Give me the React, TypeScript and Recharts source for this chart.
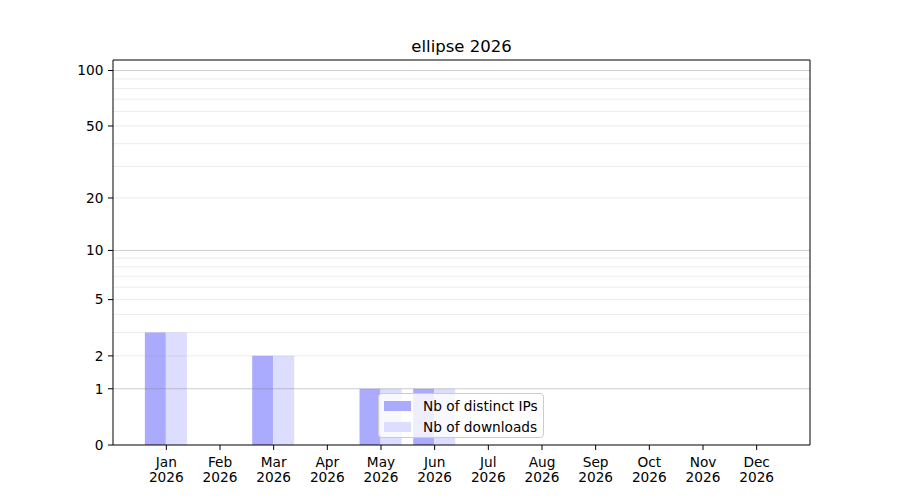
import {
  Bar,
  ComposedChart,
  Label,
  Legend,
  Line,
  ReferenceLine,
  XAxis,
  YAxis,
} from 'recharts';

const FONT = '"DejaVu Sans", sans-serif';

const MONTHS = ['Jan', 'Feb', 'Mar', 'Apr', 'May', 'Jun', 'Jul', 'Aug', 'Sep', 'Oct', 'Nov', 'Dec'];
const YEAR = '2026';
const DISTINCT_IPS = [3, 0, 2, 0, 1, 1, 0, 0, 0, 0, 0, 0];
const DOWNLOADS = [3, 0, 2, 0, 1, 1, 0, 0, 0, 0, 0, 0];

const Y_TICKS = [0, 1, 2, 5, 10, 20, 50, 100];
const Y_MAX = 114;
const MAJOR_GRID = [1, 10, 100];
const MINOR_GRID = [2, 3, 4, 5, 6, 7, 8, 9, 20, 30, 40, 50, 60, 70, 80, 90];

// the y axis is log10(1 + v), so bars are drawn on transformed values
const toScale = (v: number) => Math.log10(1 + v);
const fromScale = (s: number) => Math.round(Math.pow(10, s) - 1);

const chartData = MONTHS.map((m, i) => ({
  month: `${m} ${YEAR}`,
  ips: toScale(DISTINCT_IPS[i]),
  downloads: toScale(DOWNLOADS[i]),
}));

function MonthTick({ x, y, payload }: any) {
  const [m, yr] = String(payload.value).split(' ');
  return (
    <text x={x} y={y} textAnchor="middle" fill="#000" fontSize={13.7} fontFamily={FONT}>
      <tspan x={x} dy={14.5}>{m}</tspan>
      <tspan x={x} dy={15.5}>{yr}</tspan>
    </text>
  );
}

function LegendBox({ payload }: any) {
  return (
    <div
      style={{
        boxSizing: 'border-box',
        width: 166,
        height: 45,
        border: '1px solid #cccccc',
        borderRadius: 4,
        background: 'rgba(255,255,255,0.8)',
        padding: '1px 0 0 5px',
        fontFamily: FONT,
        fontSize: 13.7,
        color: '#000',
      }}
    >
      {(payload ?? [])
        .filter((entry: any) => entry.type !== 'none')
        .map((entry: any) => (
          <div key={entry.value} style={{ display: 'flex', alignItems: 'center', height: 21 }}>
            <span style={{ width: 27, height: 10, background: entry.color, marginRight: 12 }} />
            <span>{entry.value}</span>
          </div>
        ))}
    </div>
  );
}

export default function App() {
  const yDomain = [0, toScale(Y_MAX)];
  return (
    <div style={{ position: 'absolute', left: 0, top: 0, width: 900, height: 500, background: '#fff' }}>
      <ComposedChart
        width={900}
        height={500}
        data={chartData}
        margin={{ top: 59, right: 89, left: 53, bottom: 10 }}
        barCategoryGap="10%"
        barGap={0}
      >
        <XAxis
          dataKey="month"
          height={45}
          padding={{ left: 26.5, right: 26.5 }}
          stroke="#000"
          tickSize={5}
          tickMargin={2}
          tick={<MonthTick />}
          interval={0}
        />
        {/* top frame line + title */}
        <XAxis
          xAxisId="top"
          orientation="top"
          dataKey="month"
          height={1}
          stroke="#000"
          tick={false}
          tickLine={false}
        >
          <Label
            value="ellipse 2026"
            position="top"
            offset={7}
            fill="#000"
            fontSize={16.5}
            fontFamily={FONT}
          />
        </XAxis>
        <YAxis
          type="number"
          width={60}
          domain={yDomain}
          allowDataOverflow
          ticks={Y_TICKS.map(toScale)}
          tickFormatter={(v) => String(fromScale(v))}
          interval={0}
          stroke="#000"
          tickSize={5}
          tickMargin={4.5}
          tick={{ fill: '#000', fontSize: 13.7, fontFamily: FONT }}
        />
        {/* right frame line */}
        <YAxis
          yAxisId="right"
          orientation="right"
          type="number"
          width={1}
          domain={yDomain}
          allowDataOverflow
          stroke="#000"
          tick={false}
          tickLine={false}
        />
        <Bar dataKey="ips" name="Nb of distinct IPs" fill="#aaaaff" isAnimationActive={false} />
        <Bar dataKey="downloads" name="Nb of downloads" fill="#ddddff" isAnimationActive={false} />
        {/* invisible series so the frame axes get a domain and render */}
        <Line
          dataKey="ips"
          xAxisId="top"
          yAxisId="right"
          stroke="none"
          dot={false}
          activeDot={false}
          legendType="none"
          isAnimationActive={false}
        />
        {MINOR_GRID.map((v) => (
          <ReferenceLine key={`mi${v}`} y={toScale(v)} stroke="rgba(128,128,128,0.15)" strokeWidth={1} />
        ))}
        {MAJOR_GRID.map((v) => (
          <ReferenceLine key={`ma${v}`} y={toScale(v)} stroke="rgba(128,128,128,0.4)" strokeWidth={1} />
        ))}
        <Legend
          layout="vertical"
          align="center"
          verticalAlign="middle"
          content={<LegendBox />}
          wrapperStyle={{ left: 378, top: 393, width: 166, height: 45 }}
        />
      </ComposedChart>
    </div>
  );
}
